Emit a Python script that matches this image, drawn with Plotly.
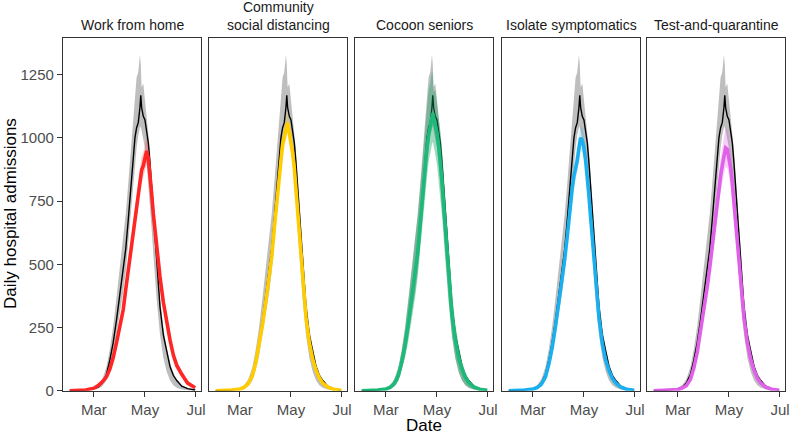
import plotly.graph_objects as go
from plotly.subplots import make_subplots

dates = ["2020-02-01", "2020-02-10", "2020-02-20", "2020-03-01", "2020-03-06",
         "2020-03-11", "2020-03-16", "2020-03-20", "2020-03-24", "2020-03-28",
         "2020-04-01", "2020-04-05", "2020-04-08", "2020-04-11", "2020-04-13",
         "2020-04-15", "2020-04-17", "2020-04-19", "2020-04-21", "2020-04-23",
         "2020-04-25", "2020-04-26", "2020-04-27", "2020-04-29", "2020-05-01",
         "2020-05-03", "2020-05-05", "2020-05-07", "2020-05-09", "2020-05-11",
         "2020-05-13", "2020-05-15", "2020-05-19", "2020-05-23", "2020-05-27",
         "2020-05-31", "2020-06-04", "2020-06-08", "2020-06-14", "2020-06-21",
         "2020-06-30"]

# baseline (no intervention)
base = [0, 1, 3, 8, 14, 30, 65, 121, 190, 280, 380, 477, 560, 675, 754, 820, 912, 1000, 1040, 1060,
        1120, 1168, 1120, 1085, 1071, 1030, 980, 900, 800, 700, 600, 490, 330, 220, 150, 95, 60, 40, 18, 8, 3]
base_hi = [0, 2, 5, 12, 22, 45, 95, 165, 255, 370, 490, 600, 700, 820, 900, 980, 1060, 1150, 1240, 1260,
           1330, 1290, 1200, 1215, 1150, 1090, 1030, 950, 850, 750, 650, 540, 370, 250, 170, 110, 70, 45, 22, 10, 4]
base_lo = [0, 0, 1, 4, 8, 18, 40, 85, 140, 210, 300, 390, 470, 570, 640, 720, 800, 880, 960, 1010,
           1040, 1045, 1040, 1000, 960, 900, 830, 740, 640, 540, 440, 360, 220, 130, 75, 40, 22, 12, 5, 2, 0]

wfh = [0, 1, 3, 10, 20, 35, 55, 85, 130, 190, 250, 320, 400, 477, 520, 570, 620, 675, 730, 781,
       840, 860, 873, 890, 925, 948, 920, 860, 780, 700, 630, 560, 450, 350, 270, 200, 140, 100, 65, 30, 12]
wfh_lo = [0, 0, 2, 7, 15, 28, 45, 72, 112, 168, 225, 292, 368, 442, 485, 532, 580, 632, 685, 735,
          790, 810, 825, 840, 872, 895, 868, 810, 732, 655, 588, 520, 415, 320, 245, 178, 122, 85, 52, 22, 8]
wfh_hi = [0, 2, 5, 13, 26, 43, 66, 100, 150, 213, 278, 350, 433, 513, 557, 610, 662, 720, 775, 830,
          892, 912, 925, 942, 978, 1002, 972, 910, 828, 745, 672, 600, 485, 382, 298, 224, 160, 117, 80, 40, 17]

csd = [0, 1, 3, 7, 13, 28, 60, 112, 178, 262, 355, 450, 530, 640, 715, 785, 860, 930, 975, 1000,
       1030, 1055, 1060, 1020, 985, 940, 880, 800, 710, 620, 530, 440, 290, 190, 125, 80, 50, 30, 14, 6, 2]
csd_lo = [0, 0, 2, 5, 10, 22, 50, 98, 160, 240, 330, 420, 498, 605, 678, 746, 820, 888, 930, 955,
          985, 1010, 1015, 978, 942, 898, 838, 760, 672, 585, 498, 410, 265, 170, 110, 68, 42, 24, 10, 4, 1]
csd_hi = [0, 2, 4, 9, 17, 34, 70, 126, 196, 284, 380, 480, 562, 675, 752, 824, 900, 972, 1020, 1045,
          1075, 1100, 1105, 1062, 1028, 982, 922, 840, 748, 655, 562, 470, 315, 210, 140, 92, 58, 36, 18, 8, 3]

coc = [0, 1, 3, 7, 13, 28, 62, 115, 182, 270, 368, 465, 548, 660, 740, 810, 890, 960, 1010, 1040,
       1085, 1098, 1080, 1050, 1020, 970, 905, 830, 735, 640, 545, 455, 300, 200, 130, 85, 52, 32, 15, 6, 2]
coc_hi = [0, 2, 5, 11, 20, 42, 90, 160, 248, 360, 478, 590, 690, 805, 885, 955, 1035, 1120, 1190, 1215,
          1265, 1250, 1180, 1190, 1140, 1085, 1030, 955, 860, 760, 660, 560, 390, 265, 180, 115, 72, 46, 22, 10, 4]
coc_lo = [0, 0, 1, 4, 8, 17, 38, 80, 132, 200, 285, 372, 450, 545, 612, 690, 765, 840, 905, 945,
          975, 985, 970, 935, 895, 840, 770, 690, 600, 510, 420, 345, 210, 125, 72, 40, 22, 12, 5, 2, 0]

iso = [0, 1, 3, 7, 12, 25, 55, 105, 170, 255, 350, 440, 520, 610, 680, 740, 800, 850, 880, 910,
       960, 985, 1000, 990, 960, 910, 850, 770, 685, 600, 510, 425, 285, 185, 120, 78, 48, 30, 14, 6, 2]
iso_lo = [0, 0, 2, 5, 9, 20, 46, 92, 152, 232, 322, 408, 485, 572, 640, 698, 756, 805, 835, 865,
          912, 938, 952, 942, 914, 866, 808, 730, 648, 565, 478, 396, 262, 168, 108, 69, 42, 25, 11, 4, 1]
iso_hi = [0, 2, 4, 9, 15, 30, 64, 118, 188, 278, 378, 472, 555, 648, 720, 782, 845, 896, 926, 956,
          1008, 1032, 1048, 1038, 1006, 954, 892, 810, 722, 635, 542, 455, 308, 203, 133, 88, 55, 35, 17, 8, 3]

tq = [0, 1, 2, 5, 10, 20, 45, 90, 150, 230, 320, 410, 485, 570, 630, 690, 750, 810, 850, 890,
      930, 950, 960, 955, 925, 880, 820, 745, 665, 585, 500, 420, 285, 190, 125, 80, 50, 30, 14, 6, 2]
tq_lo = [0, 0, 1, 3, 7, 14, 36, 76, 130, 204, 288, 372, 442, 522, 580, 636, 692, 748, 786, 822,
         858, 875, 885, 880, 852, 810, 755, 685, 610, 536, 458, 384, 258, 170, 110, 70, 43, 25, 11, 4, 1]
tq_hi = [0, 2, 4, 8, 14, 27, 56, 106, 172, 258, 355, 452, 532, 622, 685, 748, 812, 876, 920, 962,
         1005, 1030, 1045, 1035, 1002, 952, 888, 808, 722, 636, 545, 460, 315, 212, 140, 92, 58, 36, 18, 8, 3]

panel_titles = ["Work from home", "Community<br>social distancing", "Cocoon seniors",
                "Isolate symptomatics", "Test-and-quarantine"]
scenarios = [(wfh, wfh_lo, wfh_hi), (csd, csd_lo, csd_hi), (coc, coc_lo, coc_hi),
             (iso, iso_lo, iso_hi), (tq, tq_lo, tq_hi)]
line_colors = ["#ff2626", "#ffcc00", "#1db97a", "#1ab0f0", "#e160ea"]
band_colors = ["rgba(255,38,38,0.25)", "rgba(255,204,0,0.25)", "rgba(20,160,100,0.4)",
               "rgba(26,176,240,0.25)", "rgba(225,96,234,0.3)"]

y_ticks = [0, 250, 500, 750, 1000, 1250]
x_tickvals = ["2020-03-01", "2020-05-01", "2020-07-01"]
x_ticktext = ["Mar", "May", "Jul"]

W, H = 790, 434
left_px = [63, 209, 355, 502, 647]
panel_w = 138
top_px, bot_px = 38, 390.7

fig = make_subplots(rows=1, cols=5)

band_x = dates + dates[::-1]
for i, (vals, lo, hi) in enumerate(scenarios):
    c = i + 1
    fig.add_trace(go.Scatter(x=band_x, y=base_hi + base_lo[::-1], fill="toself",
                             fillcolor="rgba(190,190,190,1)", line=dict(width=0),
                             hoverinfo="skip", showlegend=False), row=1, col=c)
    fig.add_trace(go.Scatter(x=dates, y=base, mode="lines",
                             line=dict(color="black", width=1.4),
                             showlegend=False), row=1, col=c)
    fig.add_trace(go.Scatter(x=band_x, y=hi + lo[::-1], fill="toself",
                             fillcolor=band_colors[i], line=dict(width=0),
                             hoverinfo="skip", showlegend=False), row=1, col=c)
    fig.add_trace(go.Scatter(x=dates, y=vals, mode="lines",
                             line=dict(color=line_colors[i], width=3.6),
                             showlegend=False), row=1, col=c)

    x0 = left_px[i] / W
    x1 = (left_px[i] + panel_w) / W
    fig.update_xaxes(domain=[x0, x1], row=1, col=c)
    # strip titles: one-line labels sit on the lower line of the two-line one
    ty = 16 if "<br>" in panel_titles[i] else 25
    fig.add_annotation(x=(x0 + x1) / 2, y=1 - ty / H, xref="paper", yref="paper",
                       text=panel_titles[i], showarrow=False, xanchor="center",
                       yanchor="middle", font=dict(size=14, color="#1a1a1a"))

fig.update_xaxes(type="date", range=["2020-01-24", "2020-07-07"],
                 tickvals=x_tickvals, ticktext=x_ticktext, automargin=False,
                 ticks="outside", ticklen=5, tickcolor="#333333", tickwidth=1,
                 tickfont=dict(size=15, color="#4d4d4d"),
                 showline=True, mirror=True, linecolor="#333333", linewidth=1.2,
                 showgrid=False, zeroline=False)
fig.update_yaxes(range=[0, 1395], tickvals=y_ticks, domain=[1 - bot_px / H, 1 - top_px / H],
                 automargin=False,
                 showline=True, mirror=True, linecolor="#333333", linewidth=1.2,
                 showgrid=False, zeroline=False)
fig.update_yaxes(ticks="outside", ticklen=5, tickcolor="#333333",
                 tickfont=dict(size=15, color="#4d4d4d"), row=1, col=1)
for c in range(2, 6):
    fig.update_yaxes(showticklabels=False, ticks="", row=1, col=c)

fig.add_annotation(x=10 / W, y=1 - 214 / H, xref="paper", yref="paper",
                   text="Daily hospital admissions", textangle=-90, showarrow=False,
                   xanchor="center", yanchor="middle",
                   font=dict(size=17, color="black"))
fig.add_annotation(x=424 / W, y=1 - 425 / H, xref="paper", yref="paper",
                   text="Date", showarrow=False, xanchor="center", yanchor="middle",
                   font=dict(size=17, color="black"))

fig.update_layout(template="none", width=W, height=H, margin=dict(l=0, r=0, t=0, b=0),
                  plot_bgcolor="white", paper_bgcolor="white",
                  font=dict(family="Liberation Sans, Arial, sans-serif"))

# drop the default 8px body margin so the figure sits at the page origin
fig.write_html("out.html", config={"displayModeBar": False},
               post_script="document.body.style.margin='0';")
